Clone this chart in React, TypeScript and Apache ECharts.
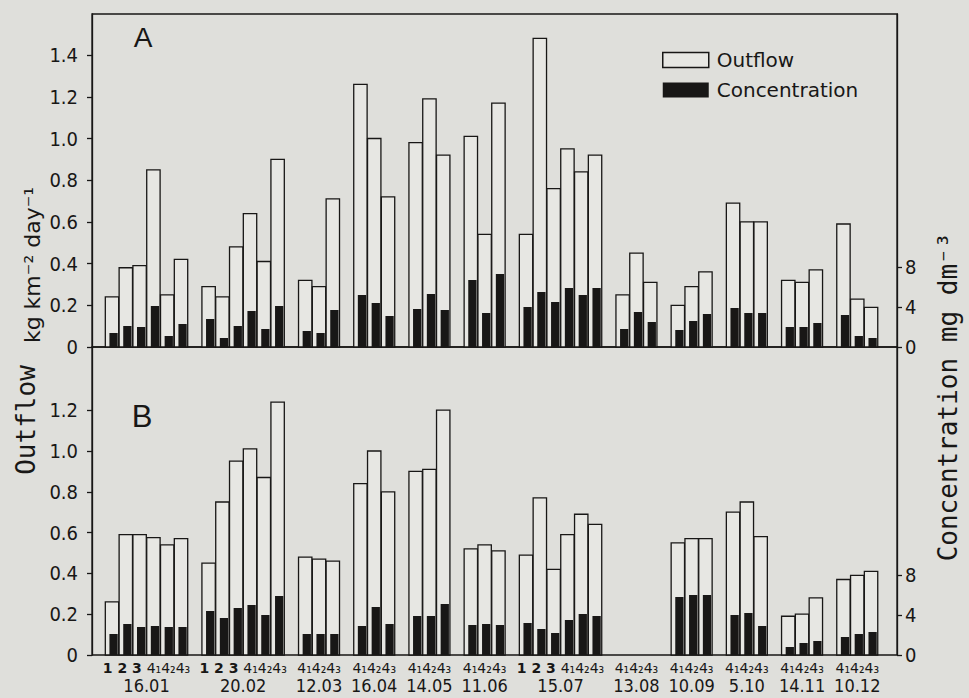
import React, { useEffect, useRef } from 'react';
import * as echarts from 'echarts';

// ---------- data ----------
const dates = ['16.01', '20.02', '12.03', '16.04', '14.05', '11.06', '15.07', '13.08', '10.09', '5.10', '14.11', '10.12'];
const fullPoints = ['1', '2', '3', '4₁', '4₂', '4₃'];
const partPoints = ['4₁', '4₂', '4₃'];
const groupPoints = [fullPoints, fullPoints, partPoints, partPoints, partPoints, partPoints, fullPoints, partPoints, partPoints, partPoints, partPoints, partPoints];

// Panel A – outflow (kg km-2 day-1)
const outflowA = [
  0.24, 0.38, 0.39, 0.85, 0.25, 0.42,
  0.29, 0.24, 0.48, 0.64, 0.41, 0.90,
  0.32, 0.29, 0.71,
  1.26, 1.00, 0.72,
  0.98, 1.19, 0.92,
  1.01, 0.54, 1.17,
  0.54, 1.48, 0.76, 0.95, 0.84, 0.92,
  0.25, 0.45, 0.31,
  0.20, 0.29, 0.36,
  0.69, 0.60, 0.60,
  0.32, 0.31, 0.37,
  0.59, 0.23, 0.19,
];
// Panel A – concentration (mg dm-3)
const concA = [
  1.4, 2.1, 2.0, 4.1, 1.1, 2.3,
  2.8, 0.9, 2.1, 3.6, 1.8, 4.1,
  1.6, 1.4, 3.7,
  5.2, 4.4, 3.1,
  3.8, 5.3, 3.7,
  6.7, 3.4, 7.3,
  4.0, 5.5, 4.5, 5.9, 5.2, 5.9,
  1.8, 3.5, 2.5,
  1.7, 2.6, 3.3,
  3.9, 3.4, 3.4,
  2.0, 2.0, 2.4,
  3.2, 1.1, 0.9,
];
// Panel B – outflow
const outflowB = [
  0.26, 0.59, 0.59, 0.575, 0.54, 0.57,
  0.45, 0.75, 0.95, 1.01, 0.87, 1.24,
  0.48, 0.47, 0.46,
  0.84, 1.00, 0.80,
  0.90, 0.91, 1.20,
  0.52, 0.54, 0.51,
  0.49, 0.77, 0.42, 0.59, 0.69, 0.64,
  null, null, null,
  0.55, 0.57, 0.57,
  0.70, 0.75, 0.58,
  0.19, 0.20, 0.28,
  0.37, 0.39, 0.41,
];
// Panel B – concentration
const concB = [
  2.1, 3.1, 2.8, 2.9, 2.8, 2.8,
  4.4, 3.7, 4.7, 5.0, 4.0, 5.9,
  2.1, 2.1, 2.1,
  2.9, 4.8, 3.1,
  3.9, 3.9, 5.1,
  3.0, 3.1, 3.0,
  3.2, 2.6, 2.2, 3.5, 4.1, 3.9,
  null, null, null,
  5.8, 6.0, 6.0,
  4.0, 4.2, 2.9,
  0.8, 1.2, 1.4,
  1.8, 2.1, 2.3,
];

const outflowTicksA = [0, 0.2, 0.4, 0.6, 0.8, 1.0, 1.2, 1.4];
const outflowTicksB = [0, 0.2, 0.4, 0.6, 0.8, 1.0, 1.2];
const concTicks = [0, 4, 8];

// ---------- styling ----------
const INK = '#181716';
const PAPER = '#dfdfdb';
const BAR_FILL = '#e7e7e3';
const NARROW = "'Liberation Sans Narrow', 'DejaVu Sans Condensed', 'Liberation Sans', sans-serif";
const SANS = "'DejaVu Sans', sans-serif";

function buildLayout() {
  const pos: number[] = [];
  const centers: number[] = [];
  let s = 0;
  groupPoints.forEach((pts) => {
    pts.forEach((_p, i) => pos.push(s + i));
    centers.push(s + (pts.length - 1) / 2);
    s += pts.length + 1;
  });
  return { pos, centers };
}

const outflowItem = (_params: any, api: any) => {
  const x = api.value(0);
  const v = api.value(1);
  const base = api.coord([x, 0]);
  const top = api.coord([x, v]);
  const w = api.size([1, 0])[0] * 0.97;
  return {
    type: 'rect',
    shape: { x: base[0] - w / 2, y: top[1], width: w, height: base[1] - top[1] },
    style: { fill: BAR_FILL, stroke: INK, lineWidth: 1.3 },
  };
};

const concItem = (_params: any, api: any) => {
  const x = api.value(0);
  const v = api.value(1);
  const base = api.coord([x, 0]);
  const top = api.coord([x, v]);
  const slot = api.size([1, 0])[0];
  const wb = slot * 0.6;
  const right = base[0] + (slot * 0.97) / 2 - 1;
  return {
    type: 'rect',
    shape: { x: right - wb, y: top[1], width: wb, height: base[1] - top[1] },
    style: { fill: INK },
  };
};

export default function App() {
  const ref = useRef<HTMLDivElement>(null);

  useEffect(() => {
    document.body.style.margin = '0';
    document.body.style.background = PAPER;
    if (!ref.current) return;
    const chart = echarts.init(ref.current, null, { renderer: 'svg' });
    const { pos, centers } = buildLayout();

    const pointsByCenter = new Map<number, string>();
    const dateByCenter = new Map<number, string>();
    centers.forEach((c, i) => {
      const pts = groupPoints[i];
      const plain = pts.filter((p) => p.length === 1).join(' ');
      const subs = pts.filter((p) => p.length > 1).join('');
      pointsByCenter.set(c, (plain ? `{b|${plain} }` : '') + `{r|${subs}}`);
      dateByCenter.set(c, dates[i]);
    });

    const pairs = (vals: (number | null)[]) =>
      vals.map((v, i) => [pos[i], v]).filter((d) => d[1] !== null);

    const X_MIN = -1.45;
    const X_MAX = 56.88;

    const xBase = (gridIndex: number) => ({
      type: 'value',
      gridIndex,
      min: X_MIN,
      max: X_MAX,
      axisLine: { show: false, onZero: false },
      axisTick: { show: false },
      splitLine: { show: false },
      axisLabel: { show: false },
    });

    const yAxisDef = (gridIndex: number, position: string, max: number, ticks: number[], margin: number, fmt: (v: number) => string) => ({
      type: 'value',
      gridIndex,
      position,
      min: 0,
      max,
      axisLine: { show: true, onZero: false, lineStyle: { color: INK, width: 1.3 } },
      axisTick: { show: true, customValues: ticks, length: 5, lineStyle: { color: INK, width: 1.3 } },
      axisLabel: { show: true, customValues: ticks, formatter: fmt, margin, color: INK, fontSize: 20, fontFamily: NARROW },
      splitLine: { show: false },
    });

    const fmtOut = (v: number) => (v === 0 ? '0' : v.toFixed(1));
    const fmtConc = (v: number) => String(Math.round(v));

    const option: any = {
      animation: false,
      backgroundColor: PAPER,
      grid: [
        { left: 92, width: 805, top: 14, height: 333, show: true, borderColor: INK, borderWidth: 1.3, backgroundColor: 'transparent', outerBoundsMode: 'none' },
        { left: 92, width: 805, top: 347, height: 308, show: true, borderColor: INK, borderWidth: 1.3, backgroundColor: 'transparent', outerBoundsMode: 'none' },
      ],
      xAxis: [
        xBase(0),
        {
          ...xBase(1),
          position: 'bottom',
          axisLabel: {
            show: true,
            customValues: centers,
            showMinLabel: true,
            showMaxLabel: true,
            hideOverlap: false,
            margin: 6,
            color: INK,
            formatter: (v: number) => pointsByCenter.get(v) ?? '',
            rich: {
              b: { fontSize: 14, fontWeight: 'bold', fontFamily: SANS, color: INK },
              r: { fontSize: 14, fontFamily: SANS, color: INK },
            },
          },
        },
        {
          ...xBase(1),
          position: 'bottom',
          axisLabel: {
            show: true,
            customValues: centers,
            showMinLabel: true,
            showMaxLabel: true,
            hideOverlap: false,
            margin: 21,
            color: INK,
            fontSize: 18,
            fontFamily: NARROW,
            formatter: (v: number) => dateByCenter.get(v) ?? '',
          },
        },
      ],
      yAxis: [
        yAxisDef(0, 'left', 333 / 208.5, outflowTicksA, 14, fmtOut),
        yAxisDef(0, 'right', 33.3, concTicks, 8, fmtConc),
        yAxisDef(1, 'left', 308 / 204, outflowTicksB, 14, fmtOut),
        yAxisDef(1, 'right', 30.8, concTicks, 8, fmtConc),
      ],
      legend: {
        show: true,
        orient: 'vertical',
        left: 657,
        top: 45,
        itemWidth: 46,
        itemHeight: 15,
        itemGap: 10,
        selectedMode: false,
        textStyle: { color: INK, fontSize: 20, fontFamily: SANS, padding: [0, 0, 0, 3] },
        data: [
          { name: 'Outflow', icon: 'rect', itemStyle: { color: BAR_FILL, borderColor: INK, borderWidth: 1.5 } },
          { name: 'Concentration', icon: 'rect', itemStyle: { color: INK, borderWidth: 0 } },
        ],
      },
      series: [
        { type: 'custom', name: 'Outflow', xAxisIndex: 0, yAxisIndex: 0, renderItem: outflowItem, data: pairs(outflowA), itemStyle: { color: BAR_FILL, borderColor: INK } },
        { type: 'custom', name: 'Concentration', xAxisIndex: 0, yAxisIndex: 1, renderItem: concItem, data: pairs(concA), itemStyle: { color: INK } },
        { type: 'custom', name: 'Outflow', xAxisIndex: 1, yAxisIndex: 2, renderItem: outflowItem, data: pairs(outflowB), itemStyle: { color: BAR_FILL, borderColor: INK } },
        { type: 'custom', name: 'Concentration', xAxisIndex: 1, yAxisIndex: 3, renderItem: concItem, data: pairs(concB), itemStyle: { color: INK } },
      ],
      graphic: [
        { type: 'text', x: 143, y: 37, style: { text: 'A', fill: INK, font: "28px 'Liberation Sans', sans-serif", textAlign: 'center', textVerticalAlign: 'middle' } },
        { type: 'text', x: 142, y: 416, style: { text: 'B', fill: INK, font: "31px 'Liberation Sans', sans-serif", textAlign: 'center', textVerticalAlign: 'middle' } },
        { type: 'text', x: 32, y: 265, rotation: Math.PI / 2, style: { text: 'kg km⁻² day⁻¹', fill: INK, font: "22px 'DejaVu Sans', sans-serif", textAlign: 'center', textVerticalAlign: 'middle' } },
        { type: 'text', x: 26, y: 420, rotation: Math.PI / 2, style: { text: 'Outflow', fill: INK, font: "26px 'DejaVu Sans Mono', monospace", textAlign: 'center', textVerticalAlign: 'middle' } },
        { type: 'text', x: 948, y: 397, rotation: Math.PI / 2, style: { text: 'Concentration mg dm⁻³', fill: INK, font: "26px 'DejaVu Sans Mono', monospace", textAlign: 'center', textVerticalAlign: 'middle' } },
      ],
    };

    chart.setOption(option);
    return () => chart.dispose();
  }, []);

  return <div ref={ref} style={{ width: 969, height: 698, background: PAPER }} />;
}
